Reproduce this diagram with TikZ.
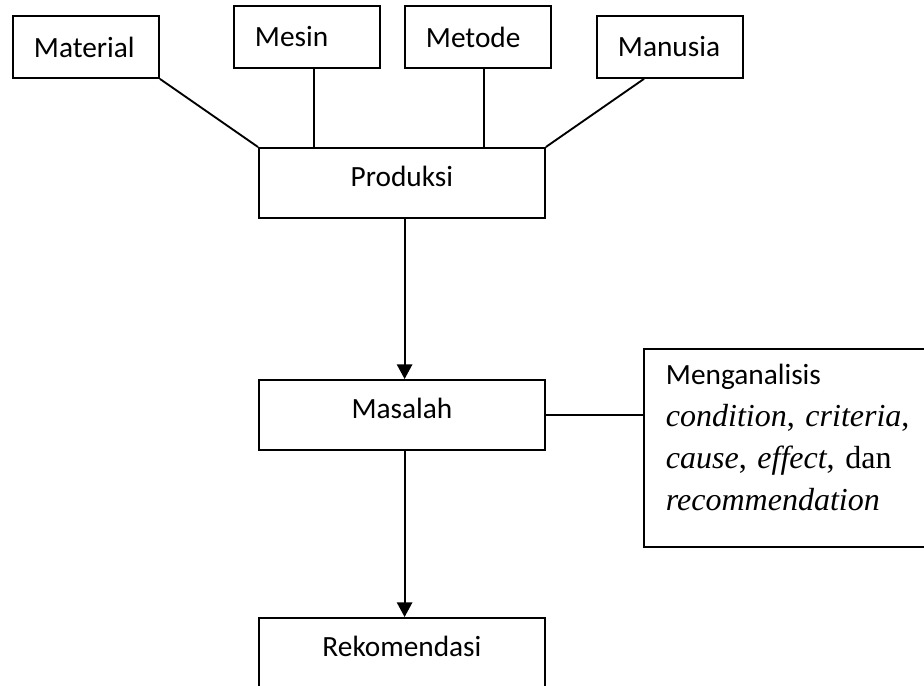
\documentclass[tikz,border=0pt]{standalone}
\usepackage{fontspec}
\setmainfont{Carlito}
\newfontfamily\timesfont{Liberation Serif}
\usetikzlibrary{arrows.meta}

\tikzset{
  box/.style={draw,line width=1.4pt,rectangle,inner sep=0pt,anchor=north west},
  topbox/.style={box,minimum height=46.5pt,text width=78pt,inner xsep=15.75pt,align=left},
  midbox/.style={box,minimum width=214.5pt,minimum height=52.5pt,text height=16pt,text depth=11pt},
  link/.style={line width=1.4pt},
  flow/.style={line width=1.4pt,-{Triangle[length=11pt,width=11.5pt]}}
}

\begin{document}
\begin{tikzpicture}[x=.75pt,y=-.75pt,font=\fontsize{22}{26}\selectfont]
	\clip(0,0)rectangle(924,685);
	% sumber
	\node[topbox](material)at(12,15){Material};
	\node[topbox](mesin)at(233,5){Mesin};
	\node[topbox](metode)at(404,5){Metode};
	\node[topbox](manusia)at(596,15){Manusia};
	% alur utama
	\node[midbox](produksi)at(258,147){Produksi};
	\node[midbox](masalah)at(258,379){Masalah};
	\node[midbox,minimum height=53.25pt](rekomendasi)at(258,617){Rekomendasi};
	\node[box,minimum width=219pt,minimum height=148.5pt,text width=186pt,inner xsep=16.5pt,align=left,
		font=\timesfont\fontsize{24}{31.5}\selectfont](analisis)at(643,348)
		{{\normalfont\fontsize{22}{31.5}\selectfont Menganalisis}\\
		\textit{condition}, \textit{criteria},\\
		\textit{cause}, \textit{effect}, dan\\
		\textit{recommendation}\rule[-15.5pt]{0pt}{1pt}};
	\draw[link](material.south east)--(produksi.north west);
	\draw[link]([xshift=5.25pt]mesin.south)--([xshift=5.25pt]mesin.south|-produksi.north);
	\draw[link]([xshift=4.5pt]metode.south)--([xshift=4.5pt]metode.south|-produksi.north);
	\draw[link]([xshift=36pt]manusia.south west)--(produksi.north east);
	\draw[flow]([xshift=2pt]produksi.south)--([xshift=2pt]masalah.north);
	\draw[link](masalah.east)--(masalah.east-|analisis.west);
	\draw[flow]([xshift=2pt]masalah.south)--([xshift=2pt]rekomendasi.north);
\end{tikzpicture}
\end{document}
